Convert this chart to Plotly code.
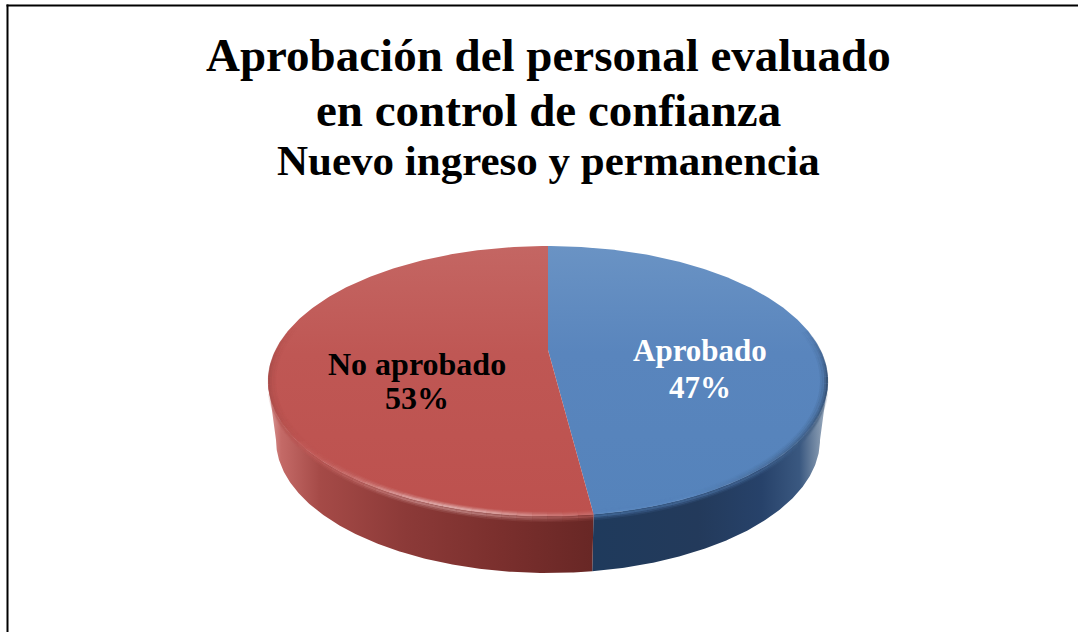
import numpy as np
import plotly.graph_objects as go

categories = ["Aprobado", "No aprobado"]
shares = [47.4, 52.6]
label_colors = ["#ffffff", "#000000"]
title_lines = ["Aprobación del personal evaluado", "en control de confianza"]
subtitle = "Nuevo ingreso y permanencia"

W, H = 1078, 632
PX = 280.0            # pixels per pie radius
CX, CY = 548.0, 381.0 # pixel position of the top ellipse centre
TILT = 135.0 / PX
HUB_Y = 31.0 / PX     # the pie's centre seen in perspective
BOT_R, BOT_Y = 272.0 / PX, -59.0 / PX
FONT = "Liberation Serif"


def top(t, r=1.0):
    return r * np.sin(t), r * TILT * np.cos(t)


def bottom(t):
    return BOT_R * np.sin(t), BOT_Y + BOT_R * (133.0 / 272.0) * np.cos(t)


def px_x(p):
    return (p - CX) / PX


def px_y(p):
    return (CY - p) / PX


fractions = np.array(shares) / sum(shares)
split = 2 * np.pi * fractions[0]

fig = go.Figure()

# side wall: the visible front half of each slice (blue, then red)
wall_grad = [
    [[0, "#1f3a5c"], [0.45, "#233a5b"], [0.72, "#27426a"], [0.88, "#3a5880"], [0.96, "#7d92ab"], [1, "#a8b6c6"]],
    [[0, "#dca09e"], [0.04, "#c46a67"], [0.16, "#a54a47"], [0.42, "#8c3a38"], [0.72, "#7a2f2d"], [1, "#682725"]],
]
ranges = [(np.pi / 2, split), (split, 3 * np.pi / 2)]
for idx, (a, b) in enumerate(ranges):
    t = np.linspace(a, b, 200)
    xt, yt = top(t)
    xb, yb = bottom(t[::-1])
    fig.add_trace(go.Scatter(
        x=np.r_[xt, xb, xt[0]], y=np.r_[yt, yb, yt[0]], mode="lines",
        line=dict(width=0), fill="toself", hoverinfo="skip",
        fillgradient=dict(type="horizontal", colorscale=wall_grad[idx]),
    ))

# top face of each slice
face_grad = [
    [[0, "#5583bb"], [0.6, "#5985bd"], [1, "#6a93c4"]],
    [[0, "#bd514e"], [0.6, "#bf5754"], [1, "#c46663"]],
]
face_rgb = [(88, 133, 189), (191, 86, 83)]
starts = np.r_[0, np.cumsum(fractions)[:-1]] * 2 * np.pi
ends = np.cumsum(fractions) * 2 * np.pi
for i in range(2):
    t = np.linspace(starts[i], ends[i], 300)
    xt, yt = top(t)
    fig.add_trace(go.Scatter(
        x=np.r_[0, xt, 0], y=np.r_[HUB_Y, yt, HUB_Y], mode="lines",
        line=dict(width=0), fill="toself", hoverinfo="skip",
        fillgradient=dict(type="vertical", colorscale=face_grad[i]),
    ))


# soft bevel along the front rim: blue darkens to the right, red catches a highlight
def rim_color(t, i, alpha):
    base = face_rgb[i]
    if i == 0:
        target, k = 0, 0.5 * np.clip((2.6 - t) / 1.0, 0, 1)
    else:
        hi = 0.55 * np.exp(-(((t - 3.5) / 0.4) ** 2))
        lo = 0.18 * np.clip((t - 4.2) / 0.6, 0, 1)
        target, k = (255, hi) if hi > lo else (0, lo)
    rgb = [round(c + (target - c) * k) for c in base]
    return f"rgba({rgb[0]},{rgb[1]},{rgb[2]},{alpha:.3f})"


rings = [(0.975, 0, 0.12), (0.982, 0, 0.25), (0.99, 0, 0.5), (0.997, 0, 0.75),
         (1.0, -1.8, 0.5), (1.0, -3.4, 0.28), (1.0, -5.0, 0.12)]
for i in range(2):
    edges = np.linspace(starts[i], ends[i], 61)
    for r, dy, alpha in rings:
        for a, b in zip(edges[:-1], edges[1:]):
            mid = (a + b) / 2
            if dy:   # outer rings fade out before the silhouette so they never stick out
                fade = np.clip((-np.cos(mid) - 0.05) / 0.3, 0, 1)
            else:    # inner rings fade out over the back of the disc
                fade = np.clip((0.4 - np.cos(mid)) / 0.4, 0, 1)
            if fade <= 0:
                continue
            t = np.linspace(a, b, 5)
            xr, yr = top(t, r)
            fig.add_trace(go.Scatter(
                x=xr, y=yr + dy / PX, mode="lines", hoverinfo="skip",
                line=dict(width=2.0, color=rim_color(mid, i, alpha * fade)),
            ))

# labels
label_x = [700, 417]
label_y = [(350, 387), (364, 398)]
label_size = [31, 32]
for i, c in enumerate(categories):
    for text, y in zip([c, f"{round(shares[i])}%"], label_y[i]):
        fig.add_annotation(
            x=px_x(label_x[i]), y=px_y(y), xref="x", yref="y", showarrow=False,
            text=f"<b>{text}</b>", font=dict(family=FONT, size=label_size[i], color=label_colors[i]),
        )

for text, y, size in zip(title_lines + [subtitle], [55, 110, 160], [47, 47, 43]):
    fig.add_annotation(x=0, y=px_y(y), xref="x", yref="y", showarrow=False,
                       text=f"<b>{text}</b>", font=dict(family=FONT, size=size, color="#000000"))

fig.update_layout(
    width=W, height=H, autosize=False, showlegend=False,
    margin=dict(l=0, r=0, t=0, b=0), paper_bgcolor="#ffffff", plot_bgcolor="#ffffff",
    xaxis=dict(visible=False, range=[px_x(0), px_x(W)], fixedrange=True),
    yaxis=dict(visible=False, range=[px_y(H), px_y(0)], fixedrange=True),
    shapes=[
        dict(type="line", xref="paper", yref="paper", x0=7.5 / W, x1=7.5 / W, y0=0, y1=1 - 4.5 / H,
             line=dict(color="#000000", width=2)),
        dict(type="line", xref="paper", yref="paper", x0=6.5 / W, x1=1, y0=1 - 5.5 / H, y1=1 - 5.5 / H,
             line=dict(color="#000000", width=2)),
    ],
)
fig.write_html("out.html", config={"displayModeBar": False},
               post_script="document.body.style.margin='0';document.body.style.overflow='hidden';")
